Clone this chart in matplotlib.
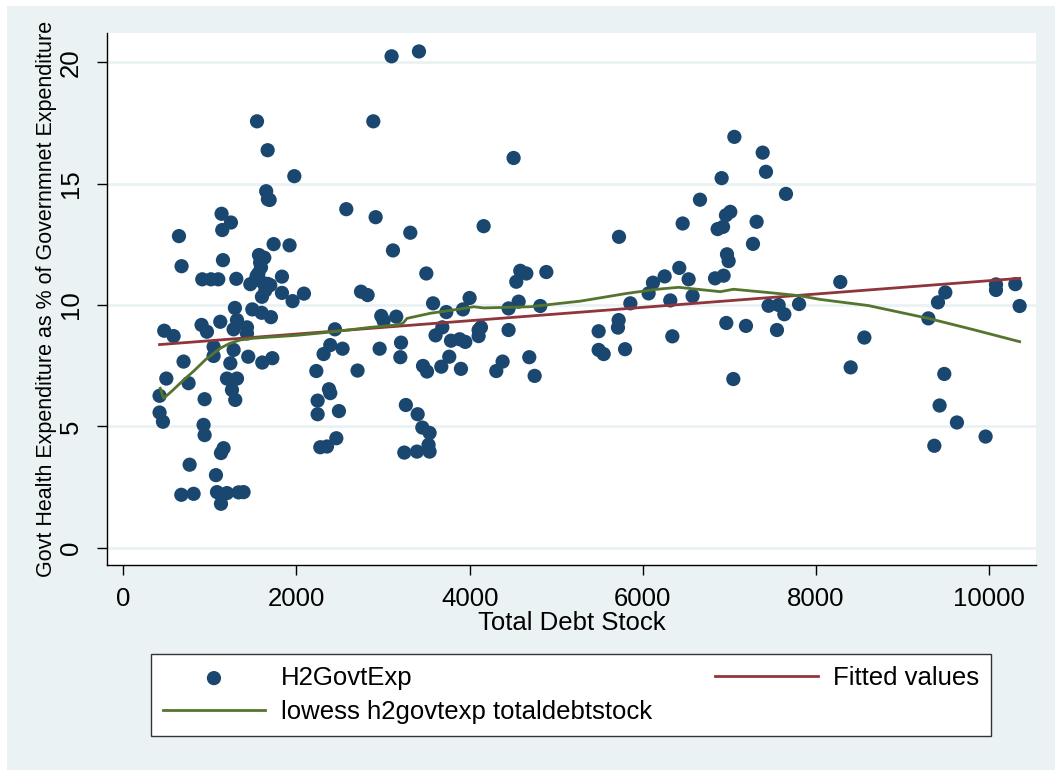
import matplotlib
matplotlib.use('Agg')
import matplotlib.pyplot as plt
from matplotlib.patches import Rectangle
import numpy as np

# scatter data (Total Debt Stock, H2GovtExp)
debt = [1544, 1667, 1975, 1650, 1670, 1690, 2575, 1135, 1243, 1143, 643, 1736, 1920,
        1567, 1628, 673, 1151, 912, 1013, 1097, 1305, 1560, 1590, 1467, 1832, 1620,
        1697, 1601, 1832, 1955, 2086, 1289, 1490, 1597, 1705, 904, 966, 1120, 1313,
        1274, 1428, 1428, 473, 581, 2444, 1580, 1540, 1640, 1530, 1669,
        1043, 1043, 1274, 1443, 1605, 1721, 696, 1236, 497, 754, 1197, 1313, 1255,
        1293, 419, 939, 419, 458, 927, 939, 1158, 1128, 766, 1070, 670, 812, 1082,
        1197, 1331, 1389, 1128, 2229, 2390, 2313, 2532, 2375, 2390, 2244, 2244, 2490,
        2460, 2275, 2352,
        3098, 3414, 2887, 4507, 2914, 3314, 3114, 4161,
        3499, 2745, 2821, 4584, 4654, 4538, 4885, 2979, 3152, 3006, 3577, 3730, 3922,
        3999, 3684, 3606, 3784, 3884, 3949, 4103, 4130, 4103, 4449, 4565, 4815, 4449,
        2960, 3207, 3199, 2705, 3461, 3507, 3672, 3764, 3899, 4380, 4307, 4688, 4750,
        3263, 3399, 3453, 3537, 3245, 3391, 3525, 3537,
        7056, 7383, 7421, 6909, 7652, 6659, 6959, 7009, 6459, 7313, 5724, 6863, 6925,
        7271, 6971, 6990, 6833, 6932, 6420, 6528, 6116, 6251, 6066, 6574, 6316, 5855,
        7451, 7567, 7633, 7803, 5720, 5712, 5489, 6963, 7190, 7548, 6340, 5489, 5547,
        5794, 7044,
        8279, 8557, 8399, 9296, 9407, 9492, 9480, 9426, 9626, 9365, 9957, 10077, 10077,
        10300, 10350]
h2exp = [17.57, 16.38, 15.31, 14.69, 14.36, 14.33, 13.95, 13.76, 13.4, 13.09, 12.84, 12.51, 12.46,
         12.06, 11.95, 11.6, 11.85, 11.06, 11.06, 11.06, 11.08, 11.3, 11.55, 10.86, 11.17, 10.9,
         10.82, 10.34, 10.5, 10.16, 10.47, 9.88, 9.82, 9.68, 9.5, 9.18, 8.9, 9.31, 9.38,
         9.0, 9.08, 8.83, 8.94, 8.72, 9.0, 11.75, 11.2, 10.6, 11.04, 10.87,
         8.28, 7.9, 8.15, 7.87, 7.63, 7.81, 7.67, 7.6, 6.97, 6.78, 6.97, 6.97, 6.5,
         6.09, 6.26, 6.12, 5.57, 5.19, 5.06, 4.64, 4.1, 3.9, 3.42, 2.99, 2.18, 2.22, 2.29,
         2.25, 2.28, 2.29, 1.81, 7.28, 8.35, 7.98, 8.2, 6.53, 6.37, 6.06, 5.5, 5.63,
         4.51, 4.14, 4.17,
         20.25, 20.45, 17.57, 16.06, 13.62, 12.98, 12.25, 13.25,
         11.3, 10.55, 10.41, 11.41, 11.3, 10.96, 11.36, 9.55, 9.52, 9.35, 10.07, 9.71, 9.82,
         10.29, 9.08, 8.75, 8.53, 8.59, 8.48, 8.97, 9.08, 8.72, 9.86, 10.14, 9.96, 8.97,
         8.2, 8.45, 7.85, 7.3, 7.49, 7.26, 7.46, 7.87, 7.37, 7.67, 7.28, 7.85, 7.08,
         5.88, 5.5, 4.95, 4.73, 3.92, 3.96, 4.24, 3.96,
         16.93, 16.28, 15.49, 15.23, 14.58, 14.34, 13.7, 13.84, 13.36, 13.43, 12.81, 13.13, 13.22,
         12.52, 12.09, 11.81, 11.1, 11.21, 11.53, 11.06, 10.92, 11.18, 10.48, 10.37, 10.19, 10.07,
         9.97, 10.0, 9.62, 10.04, 9.38, 9.07, 8.92, 9.26, 9.14, 8.97, 8.71, 8.15, 7.98,
         8.18, 6.95,
         10.95, 8.66, 7.43, 9.45, 10.11, 10.52, 7.16, 5.86, 5.16, 4.2, 4.58, 10.85, 10.62,
         10.86, 9.96]

# fitted line (end points) and lowess curve
fit_x = [419, 10350]
fit_y = [8.37, 11.1]
low_x = [427, 466, 560, 696, 820, 947, 1040, 1120, 1230, 1351, 1500, 1659, 2000, 2429,
         2852, 3160, 3230, 3276, 3545, 3930, 4045, 4161, 4700, 5046, 5277, 5816, 6163,
         6413, 6894, 7047, 7548, 7818, 8048, 8600, 9296, 9800, 10350]
low_y = [6.57, 6.16, 6.45, 6.91, 7.3, 7.74, 8.0, 8.22, 8.42, 8.56, 8.63, 8.67, 8.75, 8.9,
         9.08, 9.18, 9.25, 9.45, 9.66, 9.86, 9.93, 9.88, 9.93, 10.07, 10.16, 10.48, 10.65,
         10.73, 10.55, 10.65, 10.48, 10.38, 10.23, 9.98, 9.45, 9.0, 8.49]

bg = '#EAF2F3'
navy = '#1A476F'
maroon = '#90353B'
green = '#55752F'

plt.rcParams['font.family'] = ['Liberation Sans', 'DejaVu Sans']

W, H = 1055, 770
fig = plt.figure(figsize=(W / 100, H / 100), dpi=100)
fig.patch.set_facecolor('white')
fig.add_artist(Rectangle((7 / W, 0), 1 - 7 / W, 1 - 6 / H, transform=fig.transFigure,
                         facecolor=bg, edgecolor='none', zorder=-1))

ax = fig.add_axes([107 / W, 1 - 565 / H, (1036 - 107) / W, (565 - 33) / H])
ax.set_facecolor('white')

ax.set_xlim(-188, 10539)
ax.set_ylim(-0.713, 21.21)
ax.set_xticks([0, 2000, 4000, 6000, 8000, 10000])
ax.set_yticks([0, 5, 10, 15, 20])
ax.yaxis.grid(True, color=bg, linewidth=2)
ax.set_axisbelow(True)

for s in ['top', 'right']:
    ax.spines[s].set_visible(False)
ax.spines['left'].set_linewidth(1.0)
ax.spines['bottom'].set_linewidth(1.0)
ax.tick_params(axis='both', direction='out', length=7.5, width=1.0, labelsize=18.5, colors='black')
ax.tick_params(axis='y', pad=10)
ax.tick_params(axis='x', pad=8)
plt.setp(ax.get_yticklabels(), rotation=90, va='center')

sc = ax.scatter(debt, h2exp, s=105, color=navy, edgecolors='none', zorder=3, label='H2GovtExp')
lf, = ax.plot(fit_x, fit_y, color=maroon, linewidth=2.0, zorder=4, label='Fitted values')
ll, = ax.plot(low_x, low_y, color=green, linewidth=2.0, zorder=5, label='lowess h2govtexp totaldebtstock')

ax.set_xlabel('Total Debt Stock', fontsize=18.5, labelpad=0)
ax.set_ylabel('Govt Health Expenditure as % of Governmnet Expenditure', fontsize=15.5, labelpad=1)

leg = fig.legend([sc, ll, lf], ['H2GovtExp', 'lowess h2govtexp totaldebtstock', 'Fitted values'],
                 ncol=2, loc='center', mode='expand', borderaxespad=0,
                 bbox_to_anchor=(151 / W, 1 - 738 / H, (991 - 151) / W, 86 / H),
                 fontsize=18.5, frameon=True, fancybox=False, framealpha=1,
                 edgecolor='#333333', handlelength=4.0, handletextpad=0.6,
                 borderpad=0.45, labelspacing=0.4, columnspacing=1.7, markerscale=1.0)
leg.get_frame().set_linewidth(1.0)

fig.savefig('out.png', dpi=100, facecolor=fig.get_facecolor())
